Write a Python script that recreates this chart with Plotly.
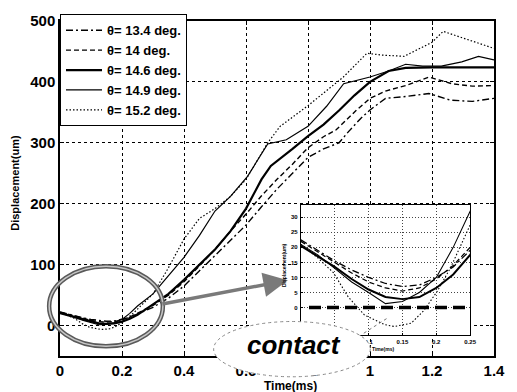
import plotly.graph_objects as go

# ---------------- data (time in ms, displacement in um) ----------------
t_134 = [0, 0.025, 0.05, 0.075, 0.1, 0.125, 0.15, 0.175, 0.2, 0.225, 0.25,
         0.3, 0.35, 0.4, 0.45, 0.5, 0.55, 0.6, 0.65, 0.7, 0.75, 0.8, 0.85,
         0.9, 0.93, 0.97, 1.0, 1.05, 1.115, 1.19, 1.26, 1.33, 1.4]
y_134 = [22.5, 19, 15.5, 12.5, 10, 8, 7, 7.5, 10, 13.5, 19,
         30, 45, 65, 90, 115, 140, 165, 195, 224, 250, 276, 290,
         300, 318, 340, 354, 373, 376, 381, 370, 368, 373]

t_140 = [0, 0.025, 0.05, 0.075, 0.1, 0.125, 0.15, 0.175, 0.2, 0.225, 0.25,
         0.3, 0.35, 0.4, 0.45, 0.5, 0.55, 0.6, 0.65, 0.7, 0.75, 0.8, 0.85,
         0.89, 0.955, 1.0, 1.05, 1.115, 1.19, 1.264, 1.33, 1.4]
y_140 = [22, 18.5, 15, 11.5, 8.5, 6.5, 5.5, 6.5, 9.5, 14, 20,
         33, 50, 72, 98, 125, 155, 183, 213, 240, 265, 292, 310,
         321, 353, 373, 385, 394, 408, 397, 393, 394]

t_146 = [0, 0.025, 0.05, 0.075, 0.1, 0.125, 0.15, 0.175, 0.2, 0.225, 0.25,
         0.3, 0.35, 0.4, 0.45, 0.5, 0.55, 0.6, 0.65, 0.68, 0.75, 0.8, 0.85,
         0.9, 0.95, 1.0, 1.06, 1.115, 1.2, 1.3, 1.4]
y_146 = [20.5, 17, 13.5, 9.5, 6, 3.5, 2.8, 3.5, 6.5, 11, 17.5,
         35, 52, 75, 100, 125, 155, 192, 240, 262, 290, 311, 330,
         353, 378, 400, 418, 423, 424, 424, 424]

t_149 = [0, 0.025, 0.05, 0.075, 0.1, 0.125, 0.15, 0.175, 0.2, 0.225, 0.25,
         0.3, 0.35, 0.4, 0.45, 0.5, 0.55, 0.58, 0.605, 0.67, 0.73, 0.8, 0.86,
         0.915, 1.0, 1.06, 1.115, 1.17, 1.23, 1.296, 1.35, 1.4]
y_149 = [21, 17.5, 13, 8.5, 5, 1.3, 2, 5, 10, 20, 32,
         52, 82, 112, 148, 188, 212, 231, 245, 298, 305, 327, 360,
         397, 408, 418, 429, 426, 426, 433, 442, 436]

t_152 = [0, 0.025, 0.048, 0.07, 0.094, 0.124, 0.138, 0.163, 0.182, 0.202, 0.221, 0.24, 0.25,
         0.3, 0.35, 0.4, 0.45, 0.5, 0.55, 0.6, 0.67, 0.71, 0.8, 0.914, 0.99,
         1.04, 1.11, 1.2, 1.236, 1.3, 1.4]
y_152 = [21, 16.5, 11.6, 3.5, -2.5, -5.7, -6.3, -5.2, -0.9, 5.6, 13.2, 22, 27,
         52, 95, 142, 176, 192, 212, 240, 300, 327, 361, 408, 447,
         444, 442, 465, 483, 472, 455]

contact_t = [0.012, 0.25]
contact_y = [0, 0]

labels = ["\u03b8= 13.4 deg.", "\u03b8= 14 deg.", "\u03b8= 14.6 deg.",
          "\u03b8= 14.9 deg.", "\u03b8= 15.2 deg."]

main_x_ticks = [0, 0.2, 0.4, 0.6, 0.8, 1.0, 1.2, 1.4]
main_y_ticks = [0, 100, 200, 300, 400, 500]
inset_x_ticks = [0.05, 0.1, 0.15, 0.2, 0.25]
inset_x_text = ["", "0.1", "0.15", "0.2", "0.25"]
inset_y_ticks = [0, 5, 10, 15, 20, 25, 30]

# ---------------- figure ----------------
FONT = "Arial, 'Liberation Sans', sans-serif"
series = [
    (t_134, y_134, dict(color="black", width=1.4, dash="7px,3px,2px,3px")),
    (t_140, y_140, dict(color="black", width=1.4, dash="5px,3px")),
    (t_146, y_146, dict(color="black", width=2.2)),
    (t_149, y_149, dict(color="black", width=1.2)),
    (t_152, y_152, dict(color="black", width=1.2, dash="1.5px,2px")),
]

fig = go.Figure()
for (tx, ty, ln), name in zip(series, labels):
    fig.add_trace(go.Scatter(x=tx, y=ty, mode="lines", name=name, line=ln,
                             xaxis="x", yaxis="y"))
for (tx, ty, ln), name in zip(series, labels):
    ln2 = dict(ln)
    ln2["width"] = max(ln["width"] * 0.9, 1)
    fig.add_trace(go.Scatter(x=tx, y=ty, mode="lines", name=name, line=ln2,
                             xaxis="x2", yaxis="y2", showlegend=False))
fig.add_trace(go.Scatter(x=contact_t, y=contact_y, mode="lines", showlegend=False,
                         line=dict(color="black", width=3.5, dash="12px,6px"),
                         xaxis="x2", yaxis="y2"))

axis_common = dict(showline=True, linecolor="black", linewidth=1.5, mirror="ticks",
                   ticks="inside", ticklen=4, tickcolor="black", zeroline=False,
                   showgrid=True, gridcolor="black", gridwidth=1, griddash="3px,3px")
inset_common = dict(showline=True, linecolor="black", linewidth=1, mirror=True,
                    ticks="inside", ticklen=2, tickcolor="black", zeroline=False,
                    showgrid=True, gridcolor="#444", gridwidth=0.6, griddash="1px,2px",
                    tickfont=dict(size=6, family=FONT, weight="bold"), ticklabelstandoff=1)

fig.update_layout(
    width=517, height=392,
    margin=dict(l=60, r=19, t=16, b=36),
    paper_bgcolor="white", plot_bgcolor="white",
    font=dict(family=FONT, color="black"),
    xaxis=dict(range=[0, 1.4], tickvals=main_x_ticks,
               tickfont=dict(size=15, family=FONT, weight="bold"),
               domain=[0, 1], anchor="y", **axis_common),
    yaxis=dict(range=[-50, 500], tickvals=main_y_ticks,
               tickfont=dict(size=15, family=FONT, weight="bold"),
               domain=[0, 1], anchor="x", **axis_common),
    xaxis2=dict(range=[0, 0.25], tickvals=inset_x_ticks, ticktext=inset_x_text,
                domain=[0.555, 0.945], anchor="y2", **inset_common),
    yaxis2=dict(range=[-9.2, 34], tickvals=inset_y_ticks,
                domain=[0.062, 0.45], anchor="x2", **inset_common),
    legend=dict(x=0, y=1.02, xanchor="left", yanchor="top", bgcolor="white",
                bordercolor="black", borderwidth=1,
                font=dict(size=13, family=FONT, weight="bold"),
                itemwidth=36, tracegroupgap=0),
    showlegend=True,
)

# highlight ellipse (double gray line)
fig.add_shape(type="circle", xref="paper", yref="paper", x0=-0.025, x1=0.237,
              y0=0.029, y1=0.268, line=dict(color="#5a5a5a", width=4.5), layer="above")
fig.add_shape(type="circle", xref="paper", yref="paper", x0=-0.025, x1=0.237,
              y0=0.029, y1=0.268, line=dict(color="#c8c8c8", width=1.5), layer="above")

# callout bubble
fig.add_shape(type="line", xref="paper", yref="paper", x0=0.70, y0=0.068, x1=0.753, y1=0.112,
              line=dict(color="#777", width=1, dash="dot"), layer="above")
fig.add_shape(type="circle", xref="paper", yref="paper", x0=0.354, x1=0.715,
              y0=-0.062, y1=0.103, fillcolor="white",
              line=dict(color="#888", width=1, dash="dot"), layer="above")

annotations = [
    dict(x=0.525, y=0.226, xref="paper", yref="paper", text="", showarrow=True,
         ax=-127, ay=24, arrowcolor="#7a7a7a", arrowwidth=3.5, arrowhead=2, arrowsize=1.4),
    dict(x=0.539, y=0.032, xref="paper", yref="paper", text="<b><i>contact</i></b>",
         xanchor="center", yanchor="middle",
         showarrow=False, font=dict(size=26, family=FONT, color="black")),
    dict(x=-0.103, y=0.518, xref="paper", yref="paper", text="<b>Displacement(um)</b>",
         xanchor="center", yanchor="middle",
         textangle=-90, showarrow=False, font=dict(size=11, family=FONT)),
    dict(x=0.532, y=-0.09, xref="paper", yref="paper", text="<b>Time(ms)</b>",
         xanchor="center", yanchor="middle",
         showarrow=False, font=dict(size=12, family=FONT)),
    dict(x=0.745, y=0.022, xref="paper", yref="paper", text="<b>Time(ms)</b>",
         xanchor="center", yanchor="middle",
         showarrow=False, font=dict(size=5, family=FONT)),
    dict(x=0.515, y=0.27, xref="paper", yref="paper", text="<b>Displacement(um)</b>",
         xanchor="center", yanchor="middle",
         textangle=-90, showarrow=False, font=dict(size=5, family=FONT)),
]
fig.update_layout(annotations=annotations)

fig.write_html("out.html", config={"displayModeBar": False})

# remove the default page margin so the figure sits at the window's top-left corner
with open("out.html", "r", encoding="utf-8") as f:
    html = f.read()
html = html.replace("<head>", "<head><style>html,body{margin:0;padding:0;overflow:hidden;}</style>", 1)
with open("out.html", "w", encoding="utf-8") as f:
    f.write(html)
